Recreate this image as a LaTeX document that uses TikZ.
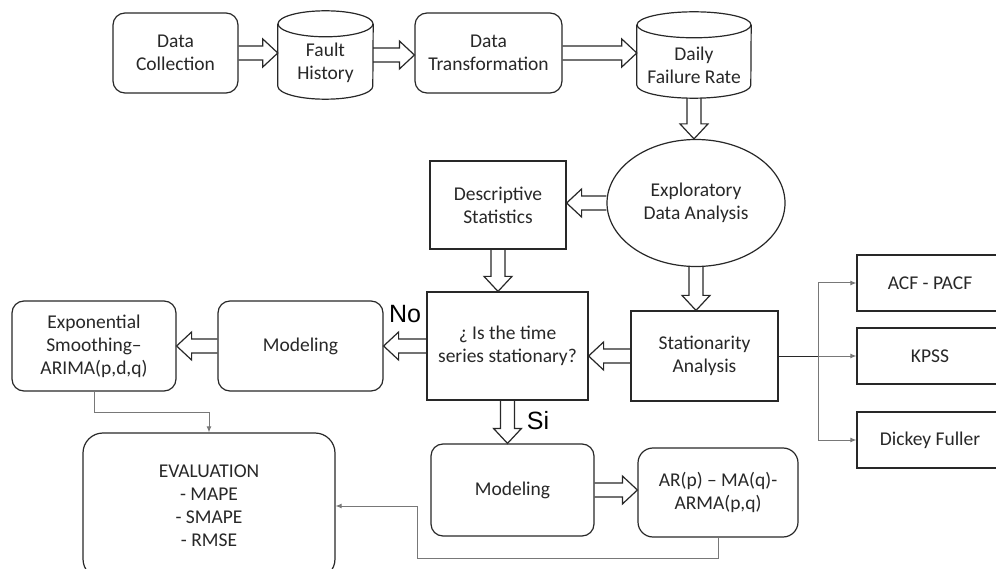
\documentclass[tikz,border=0pt]{standalone}
\usepackage{fontspec}
\setmainfont{Carlito}
\newfontfamily\arialfont{Liberation Sans}
\usetikzlibrary{calc,shapes.geometric,arrows.meta}
\definecolor{conn}{RGB}{120,120,120}
\definecolor{ink}{RGB}{40,40,40}
\tikzset{
  box/.style={draw=ink,line width=1.2pt,rectangle,inner sep=0pt,align=center,text=ink,
    font=\fontsize{19.5}{23}\selectfont},
  rbox/.style={box,rounded corners=12pt},
  cylbox/.style={rectangle,inner sep=0pt,align=center,text=ink,
    font=\fontsize{19.5}{23}\selectfont},
  cylline/.style={draw=ink,line width=1.2pt},
  blockarrow/.style={draw=ink,line width=1.2pt,line join=miter},
  thin/.style={draw=conn,line width=1pt},
  tip/.style={-{Latex[length=6pt,width=5pt]}},
  bigword/.style={font=\arialfont\fontsize{25}{28}\selectfont,text=black,inner sep=0pt}
}
\newcommand\barrow[2]{%
  \coordinate (ba1) at (#1);
  \coordinate (ba2) at (#2);
  \coordinate (bab) at ($(ba2)!15pt!(ba1)$);
  \draw[blockarrow] ($(ba1)!7pt!90:(ba2)$) -- ($(bab)!7pt!90:(ba2)$) -- ($(bab)!14pt!90:(ba2)$) -- (ba2)
     -- ($(bab)!14pt!-90:(ba2)$) -- ($(bab)!7pt!-90:(ba2)$) -- ($(ba1)!7pt!-90:(ba2)$);
}
\newcommand\cyl[3]{% name, x radius, y radius
  \draw[cylline] ([yshift=-#3]#1.north west) -- ([yshift=#3]#1.south west)
     arc[start angle=180,end angle=360,x radius=#2,y radius=#3]
     -- ([yshift=-#3]#1.north east);
  \draw[cylline] ([yshift=-#3]#1.north) ellipse[x radius=#2,y radius=#3];
}
\begin{document}
\begin{tikzpicture}[x=1pt,y=-1pt]
\useasboundingbox (0,0) rectangle (996,569);
\clip (0,0) rectangle (996,569);
\fill[white] (0,0) rectangle (996,569);

% top row
\node[rbox,minimum width=125pt,minimum height=80pt] (dc) at (175.5,53) {Data\\Collection};
\node[cylbox,minimum width=95pt,minimum height=88pt] (fh) at (325.5,55) {};
\cyl{fh}{47.5pt}{13pt}
\node[cylbox] at (325.5,63) {Fault\\History};
\node[rbox,minimum width=147pt,minimum height=80pt] (dt) at (488.5,53) {Data\\Transformation};
\node[cylbox,minimum width=114pt,minimum height=86pt] (dfr) at (694,55) {};
\cyl{dfr}{57pt}{13pt}
\node[cylbox] at (694,65) {Daily\\Failure Rate};

% middle
\node[box,ellipse,minimum width=178pt,minimum height=127pt] (eda) at (696,203) {Exploratory\\Data Analysis};
\node[box,minimum width=136pt,minimum height=88pt] (ds) at (498,205) {Descriptive\\Statistics};
\node[box,minimum width=161pt,minimum height=108pt] (q) at (507.5,346) {¿ Is the time\\series stationary?};
\node[box,minimum width=147pt,minimum height=90pt] (sa) at (704.5,356) {Stationarity\\Analysis};
\node[box,minimum width=146pt,minimum height=56pt] (acf) at (930,283) {ACF - PACF};
\node[box,minimum width=146pt,minimum height=56pt] (kpss) at (930,356) {KPSS};
\node[box,minimum width=146pt,minimum height=56pt] (dfull) at (930,440) {Dickey Fuller};

% left
\node[rbox,minimum width=164pt,minimum height=90pt] (es) at (94,346) {Exponential\\Smoothing–\\ARIMA(p,d,q)};
\node[rbox,minimum width=165pt,minimum height=90pt] (mod1) at (300.5,346) {Modeling};
\node[box,rounded corners=20pt,minimum width=252pt,minimum height=146pt] (eval) at (209,506) {EVALUATION\\- MAPE\\- SMAPE\\- RMSE};

% bottom
\node[rbox,minimum width=163pt,minimum height=92pt] (mod2) at (512.5,490) {Modeling};
\node[rbox,rounded corners=15pt,minimum width=160pt,minimum height=89pt] (ar) at (718,492.5) {AR(p) – MA(q)-\\ARMA(p,q)};

% labels
\node[bigword] (no) at (405,314) {No};
\node[bigword] (si) at (538,421) {Si};

% block arrows
\barrow{dc.east}{dc.east -| fh.west}
\barrow{fh.east}{fh.east -| dt.west}
\barrow{dt.east}{dt.east -| dfr.west}
\barrow{dfr.south}{dfr.south |- eda.north}
\barrow{eda.west}{eda.west -| ds.east}
\barrow{ds.south}{ds.south |- q.north}
\barrow{eda.south}{eda.south |- sa.north}
\barrow{sa.west}{sa.west -| q.east}
\barrow{q.west}{q.west -| mod1.east}
\barrow{mod1.west}{mod1.west -| es.east}
\barrow{q.south}{q.south |- mod2.north}
\barrow{mod2.east}{mod2.east -| ar.west}

% thin connectors
\coordinate (br) at ([xshift=40pt]sa.east);
\draw[thin,draw=ink] (sa.east) -- (br);
\draw[thin,tip] (br) -- (kpss.west);
\draw[thin,tip] (br) |- (acf.west);
\draw[thin,tip] (br) |- (dfull.west);
\draw[thin,tip] (es.south) -- ++(0,21) -| (eval.north);
\coordinate (rt) at ([xshift=82pt]eval.east);
\draw[thin,tip] (ar.south) -- ++(0,21) -| (rt) -- (eval.east);
\end{tikzpicture}
\end{document}
